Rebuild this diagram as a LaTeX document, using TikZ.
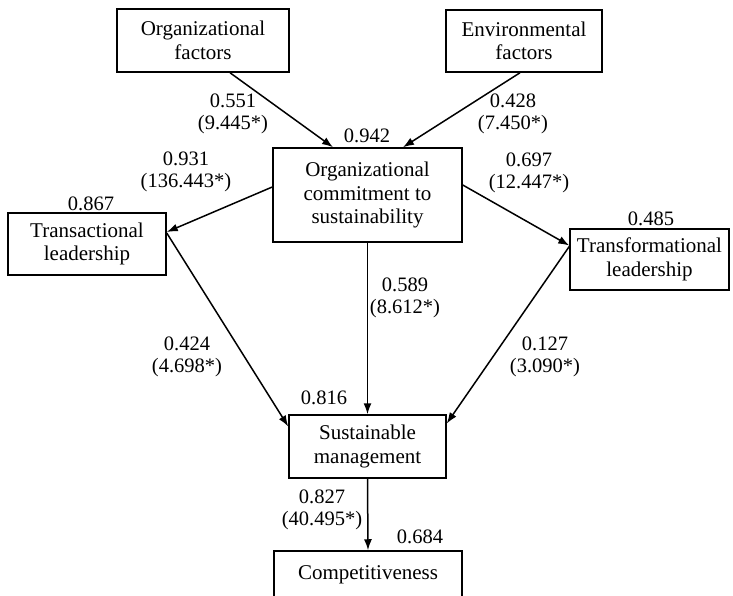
\documentclass[tikz,border=0pt]{standalone}
\usepackage{fontspec}
\setmainfont{Liberation Serif}
\usetikzlibrary{arrows.meta}

\begin{document}
\begin{tikzpicture}[x=1pt,y=-1pt,line width=1.5pt]

        \useasboundingbox (0,0) rectangle (733,596);

        \begin{scope}[every node/.style={rectangle,draw,align=center,inner sep=0pt,
            font=\fontsize{21}{23.5}\selectfont}]
          \node[minimum width=172pt,minimum height=63pt] (of)  at (203,40.5)    {Organizational\\factors};
          \node[minimum width=156pt,minimum height=62pt] (ef)  at (524,41)      {Environmental\\factors};
          \node[minimum width=189pt,minimum height=94pt] (occ) at (367.5,195)   {Organizational\\commitment to\\sustainability};
          \node[minimum width=158pt,minimum height=62pt] (tl)  at (87,244)      {Transactional\\leadership};
          \node[minimum width=159pt,minimum height=61pt] (tfl) at (649.5,259.5) {Transformational\\leadership};
          \node[minimum width=157pt,minimum height=63pt] (sm)  at (367.5,446.5) {Sustainable\\management};
          \node[minimum width=188pt,minimum height=48pt] (cp)  at (368,575)     {Competitiveness};
        \end{scope}

        \begin{scope}[every node/.style={align=center,inner sep=0pt,
            font=\fontsize{20.5}{22}\selectfont}]
          \node (r1) at (367,136) {0.942};
          \node (r2) at (91,204)  {0.867};
          \node (r3) at (651,219) {0.485};
          \node (r4) at (324,398) {0.816};
          \node (r5) at (420,537) {0.684};

          \node (p1) at (233,114) {0.551\\(9.445*)};
          \node (p2) at (513,114) {0.428\\(7.450*)};
          \node (p3) at (186,172) {0.931\\(136.443*)};
          \node (p4) at (529,173) {0.697\\(12.447*)};
          \node (p5) at (405,298) {0.589\\(8.612*)};
          \node (p6) at (187,357) {0.424\\(4.698*)};
          \node (p7) at (545,357) {0.127\\(3.090*)};
          \node (p8) at (322,510) {0.827\\(40.495*)};
        \end{scope}

        \begin{scope}[every edge/.style={draw,-{Latex[length=11pt,width=8pt]}}]
          \path ([xshift=27pt]of.south)   edge ([xshift=-34.5pt]occ.north);
          \path ([xshift=-4pt]ef.south)   edge ([xshift=35.5pt]occ.north);
          \path ([yshift=8pt]occ.west)    edge ([yshift=12pt]tl.east);
          \path ([yshift=10pt]occ.east)   edge ([yshift=14pt]tfl.west);
          \path ([yshift=11pt]tl.east)    edge ([yshift=20pt]sm.west);
          \path (occ.south)               edge (sm.north);
          \path ([yshift=13pt]tfl.west)   edge ([yshift=23pt]sm.east);
          \path (sm.south)                edge (cp.north);
        \end{scope}

      \end{tikzpicture}
\end{document}
